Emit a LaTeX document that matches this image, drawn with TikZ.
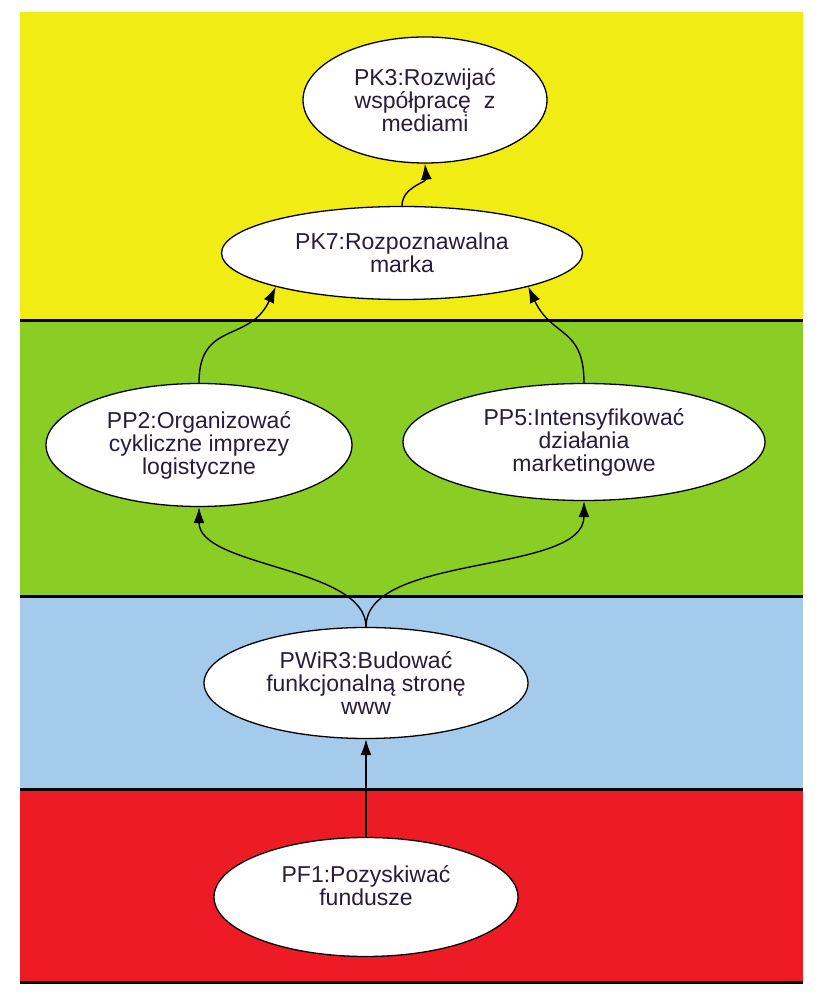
\documentclass[tikz,border=0pt]{standalone}
\usepackage{fontspec}
\setmainfont{Liberation Sans}
\usetikzlibrary{shapes, arrows.meta, positioning}
\definecolor{bandyellow}{RGB}{240,236,20}
\definecolor{bandgreen}{RGB}{138,205,37}
\definecolor{bandblue}{RGB}{164,203,236}
\definecolor{bandred}{RGB}{237,28,36}
\definecolor{goaltext}{RGB}{40,28,60}

\begin{document}
\begin{tikzpicture}[x=1pt, y=1pt,
    goal/.style={draw, ellipse, fill=white, line width=1.3pt, inner sep=0pt, align=center,
      text=goaltext, font=\fontsize{23}{23}\selectfont},
    band/.style={line width=3pt}]
  \useasboundingbox (0,0) rectangle (825,1005);
  \fill[white] (0,0) rectangle (825,1005);
  \fill[bandyellow] (20,684) rectangle (803,993);
  \fill[bandgreen] (20,408) rectangle (803,684);
  \fill[bandblue] (20,215) rectangle (803,408);
  \fill[bandred] (20,22) rectangle (803,215);
  \foreach \y in {684,408,215,22}
    \draw[band] (20,\y) -- (803,\y);

  \node[goal, minimum width=244pt, minimum height=126pt] (pk3) at (425,905) {PK3:Rozwijać\\współpracę~ z\\mediami};
  \node[goal, minimum width=361pt, minimum height=93pt] (pk7) at (402,752) {PK7:Rozpoznawalna\\marka};
  \node[goal, minimum width=306pt, minimum height=123pt] (pp2) at (199,560) {PP2:Organizować\\cykliczne imprezy\\logistyczne};
  \node[goal, minimum width=362pt, minimum height=117pt] (pp5) at (584,563) {PP5:Intensyfikować\\działania\\marketingowe};
  \node[goal, minimum width=324pt, minimum height=111pt] (pwir3) at (366,322) {PWiR3:Budować\\funkcjonalną stronę\\www};
  \node[goal, minimum width=304pt, minimum height=119pt] (pf1) at (366,108) {PF1:Pozyskiwać\\fundusze\\\mbox{}};

  \path[->, >={Latex[length=16pt, width=11pt]}, line width=1.4pt]
    (pk7.north) edge[out=90, in=-85] (pk3.south)
    (pp2.north) edge[out=90, in=-115, looseness=1.3] (pk7.195)
    (pp5.north) edge[out=90, in=-65, looseness=1.3] (pk7.345)
    (pwir3.north) edge[out=90, in=-90, looseness=0.75] (pp2.south)
    (pwir3.north) edge[out=90, in=-90, looseness=0.75] (pp5.south)
    (pf1.north) edge (pwir3.south);
\end{tikzpicture}
\end{document}
